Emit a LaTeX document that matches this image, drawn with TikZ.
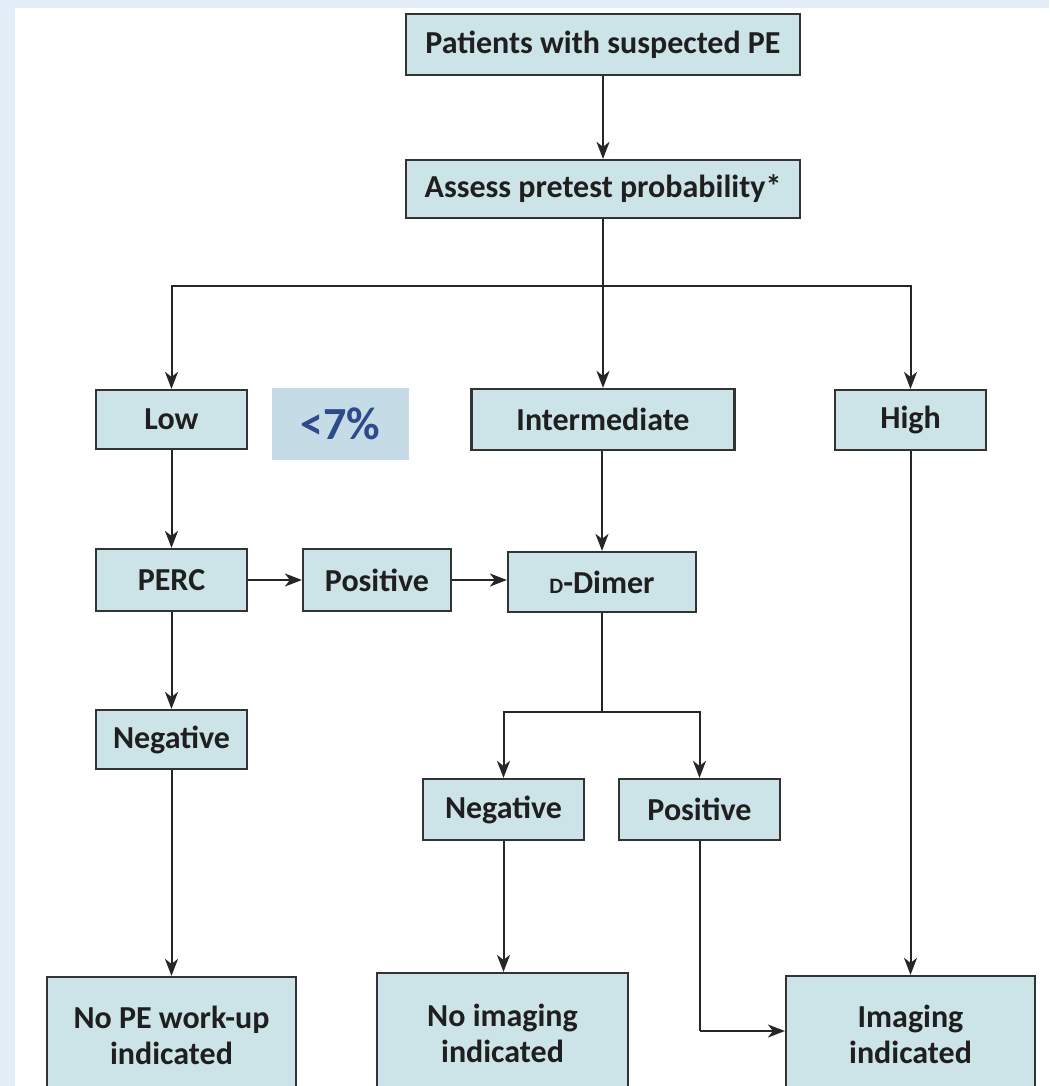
\documentclass[tikz,border=0pt]{standalone}
\usepackage{fontspec}
\setmainfont{Carlito}
\usetikzlibrary{arrows.meta}
\definecolor{boxfill}{HTML}{CCE3E8}
\definecolor{boxline}{HTML}{333333}
\definecolor{bgblue}{HTML}{E3EDF7}
\definecolor{pctfill}{HTML}{C5DBE6}
\definecolor{pcttext}{HTML}{2E4A8A}
\begin{document}
\begin{tikzpicture}[x=1pt,y=-1pt,
  box/.style={draw=boxline, line width=2.2pt, fill=boxfill, inner sep=0pt, align=center,
    text=black!88, font=\fontsize{32}{36}\selectfont\bfseries},
  conn/.style={draw=black!85, line width=2pt},
  arr/.style={conn, -{Stealth[length=17pt,width=13pt,inset=5pt]}}]
\useasboundingbox (0,0) rectangle (1049,1086);
\clip (0,0) rectangle (1049,1086);
\fill[bgblue] (0,0) rectangle (1049,1086);
\fill[white] (15,8) rectangle (1049,1086);

\node[box, minimum width=394pt, minimum height=61pt] (pat) at (603,44.5) {Patients with suspected PE};
\node[box, minimum width=394pt, minimum height=58pt] (assess) at (603,189) {Assess pretest probability*};
\node[box, minimum width=151pt, minimum height=59pt] (low) at (171.5,419.5) {Low};
\node[fill=pctfill, minimum width=137pt, minimum height=72pt, inner sep=0pt, text=pcttext,
  font=\fontsize{46}{48}\selectfont\bfseries] (pct) at (340.5,424) {<7\%};
\node[box, minimum width=263pt, minimum height=61pt] (inter) at (603,419.5) {Intermediate};
\node[box, minimum width=151pt, minimum height=60pt] (high) at (910.5,420) {High};
\node[box, minimum width=151pt, minimum height=62pt] (perc) at (171.5,580) {PERC};
\node[box, minimum width=148pt, minimum height=62pt] (pos1) at (377,580) {Positive};
\node[box, minimum width=188pt, minimum height=60pt] (ddim) at (602,582) {{\fontsize{22}{24}\selectfont D}-Dimer};
\node[box, minimum width=151pt, minimum height=59pt] (neg1) at (171.5,739.5) {Negative};
\node[box, minimum width=161pt, minimum height=61pt] (neg2) at (503.5,809.5) {Negative};
\node[box, minimum width=161pt, minimum height=61pt] (pos2) at (699.5,809.5) {Positive};
\node[box, minimum width=249pt, minimum height=116pt] (nope) at (171.5,1035) {No PE work-up\\indicated};
\node[box, minimum width=251pt, minimum height=120pt] (noimg) at (502.5,1033) {No imaging\\indicated};
\node[box, minimum width=249pt, minimum height=116pt] (img) at (910.5,1034) {Imaging\\indicated};

\coordinate (split1) at (603,286);
\coordinate (split2) at (602,712);

\draw[arr] (pat) -- (assess);
\draw[conn] (assess.south) -- (split1);
\draw[arr] (split1) -| (low);
\draw[arr] (split1) -| (high);
\draw[arr] (split1) -- (inter.north);
\draw[arr] (low) -- (perc);
\draw[arr] (perc) -- (pos1);
\draw[arr] (pos1.east) -- (pos1.east -| ddim.west);
\draw[arr] (inter.south -| ddim.north) -- (ddim.north);
\draw[conn] (ddim.south) -- (split2);
\draw[arr] (split2) -| (neg2);
\draw[arr] (split2) -| (pos2);
\draw[arr] (perc) -- (neg1);
\draw[arr] (neg1) -- (nope);
\draw[arr] (neg2) -- (noimg.north -| neg2);
\draw[arr] (high) -- (img);
\coordinate (turn) at (699.5,1031);
\draw[conn] (pos2.south) -- (turn);
\draw[arr] (turn) -- (turn -| img.west);
\end{tikzpicture}
\end{document}
